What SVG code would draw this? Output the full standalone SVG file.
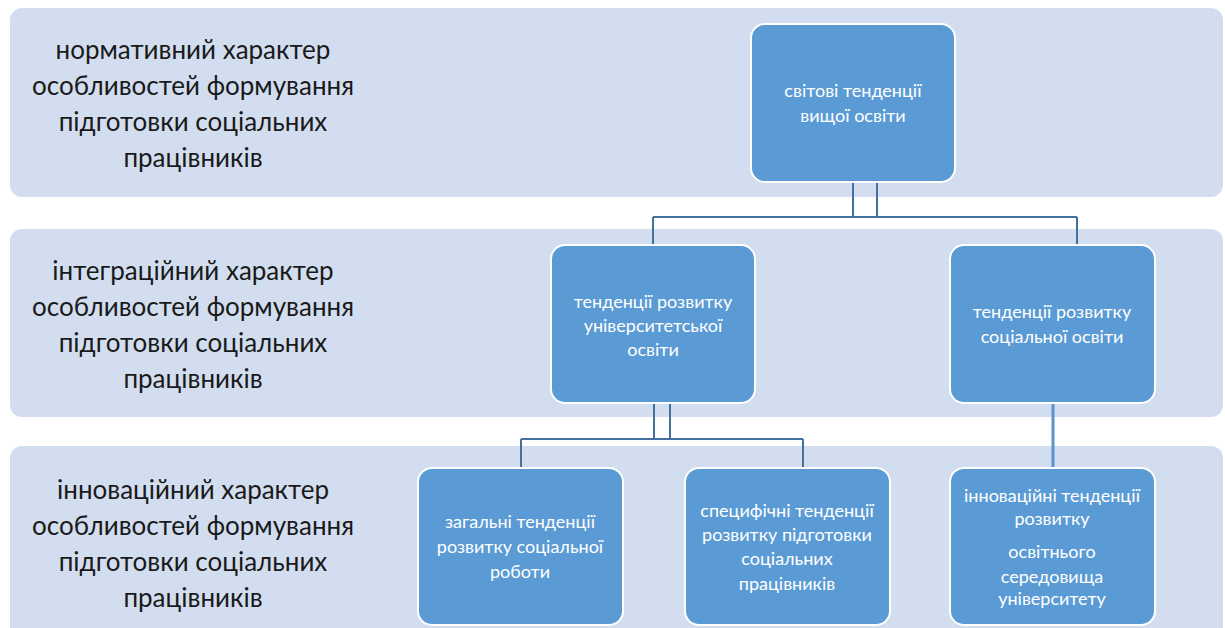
<svg xmlns="http://www.w3.org/2000/svg" width="1225" height="628" viewBox="0 0 1225 628">
<style>
.band{fill:#D2DEEF}
.node{fill:#5B9BD5;stroke:#FFFFFF;stroke-width:2}
.lbl{font-family:Lato,"Noto Sans","DejaVu Sans",sans-serif;font-size:26px;fill:#1A1A1A;text-anchor:middle}
.nt{font-family:Lato,"Noto Sans","DejaVu Sans",sans-serif;font-size:18px;fill:#FFFFFF;text-anchor:middle}
.conn{fill:none;stroke:#41719C;stroke-width:2}
.conn2{fill:none;stroke:#5B93CB;stroke-width:3}
</style>
<rect x="0" y="0" width="1225" height="628" fill="#FFFFFF"/>
<g id="band1">
<rect class="band" x="10" y="8" width="1213" height="189" rx="12"/>
<text class="lbl"><tspan x="193" y="59">нормативний характер</tspan><tspan x="193" y="95">особливостей формування</tspan><tspan x="193" y="131">підготовки соціальних</tspan><tspan x="193" y="167">працівників</tspan></text>
</g>
<g id="band2">
<rect class="band" x="10" y="229" width="1213" height="188" rx="12"/>
<text class="lbl"><tspan x="193" y="280">інтеграційний характер</tspan><tspan x="193" y="316">особливостей формування</tspan><tspan x="193" y="352">підготовки соціальних</tspan><tspan x="193" y="388">працівників</tspan></text>
</g>
<g id="band3">
<rect class="band" x="10" y="446" width="1213" height="195" rx="12"/>
<text class="lbl"><tspan x="193" y="499">інноваційний характер</tspan><tspan x="193" y="535">особливостей формування</tspan><tspan x="193" y="571">підготовки соціальних</tspan><tspan x="193" y="607">працівників</tspan></text>
</g>
<g id="connectors">
<path class="conn" d="M853 182V217M877 182V217M653 217H1077M653 217V245M1077 217V245"/>
<path class="conn" d="M654 403V439M670 403V439M521 439H803M521 439V468M803 439V468"/>
<path class="conn2" d="M1053 403V468"/>
</g>
<g id="n1">
<rect class="node" x="751" y="24" width="204" height="158" rx="14"/>
<text class="nt"><tspan x="853" y="97">світові тенденції</tspan><tspan x="853" y="122">вищої освіти</tspan></text>
</g>
<g id="n2">
<rect class="node" x="551" y="245" width="204" height="158" rx="14"/>
<text class="nt"><tspan x="653" y="308">тенденції розвитку</tspan><tspan x="653" y="332">університетської</tspan><tspan x="653" y="356">освіти</tspan></text>
</g>
<g id="n3">
<rect class="node" x="950" y="245" width="205" height="158" rx="14"/>
<text class="nt"><tspan x="1052" y="318">тенденції розвитку</tspan><tspan x="1052" y="343">соціальної освіти</tspan></text>
</g>
<g id="n4">
<rect class="node" x="418" y="468" width="205" height="157" rx="14"/>
<text class="nt"><tspan x="520" y="528">загальні тенденції</tspan><tspan x="520" y="553">розвитку соціальної</tspan><tspan x="520" y="578">роботи</tspan></text>
</g>
<g id="n5">
<rect class="node" x="685" y="468" width="205" height="157" rx="14"/>
<text class="nt"><tspan x="787" y="517">специфічні тенденції</tspan><tspan x="787" y="541">розвитку підготовки</tspan><tspan x="787" y="565">соціальних</tspan><tspan x="787" y="590">працівників</tspan></text>
</g>
<g id="n6">
<rect class="node" x="950" y="468" width="205" height="157" rx="14"/>
<text class="nt"><tspan x="1052" y="502">інноваційні тенденції</tspan><tspan x="1052" y="525">розвитку</tspan><tspan x="1052" y="558">освітнього</tspan><tspan x="1052" y="583">середовища</tspan><tspan x="1052" y="605">університету</tspan></text>
</g>
</svg>
